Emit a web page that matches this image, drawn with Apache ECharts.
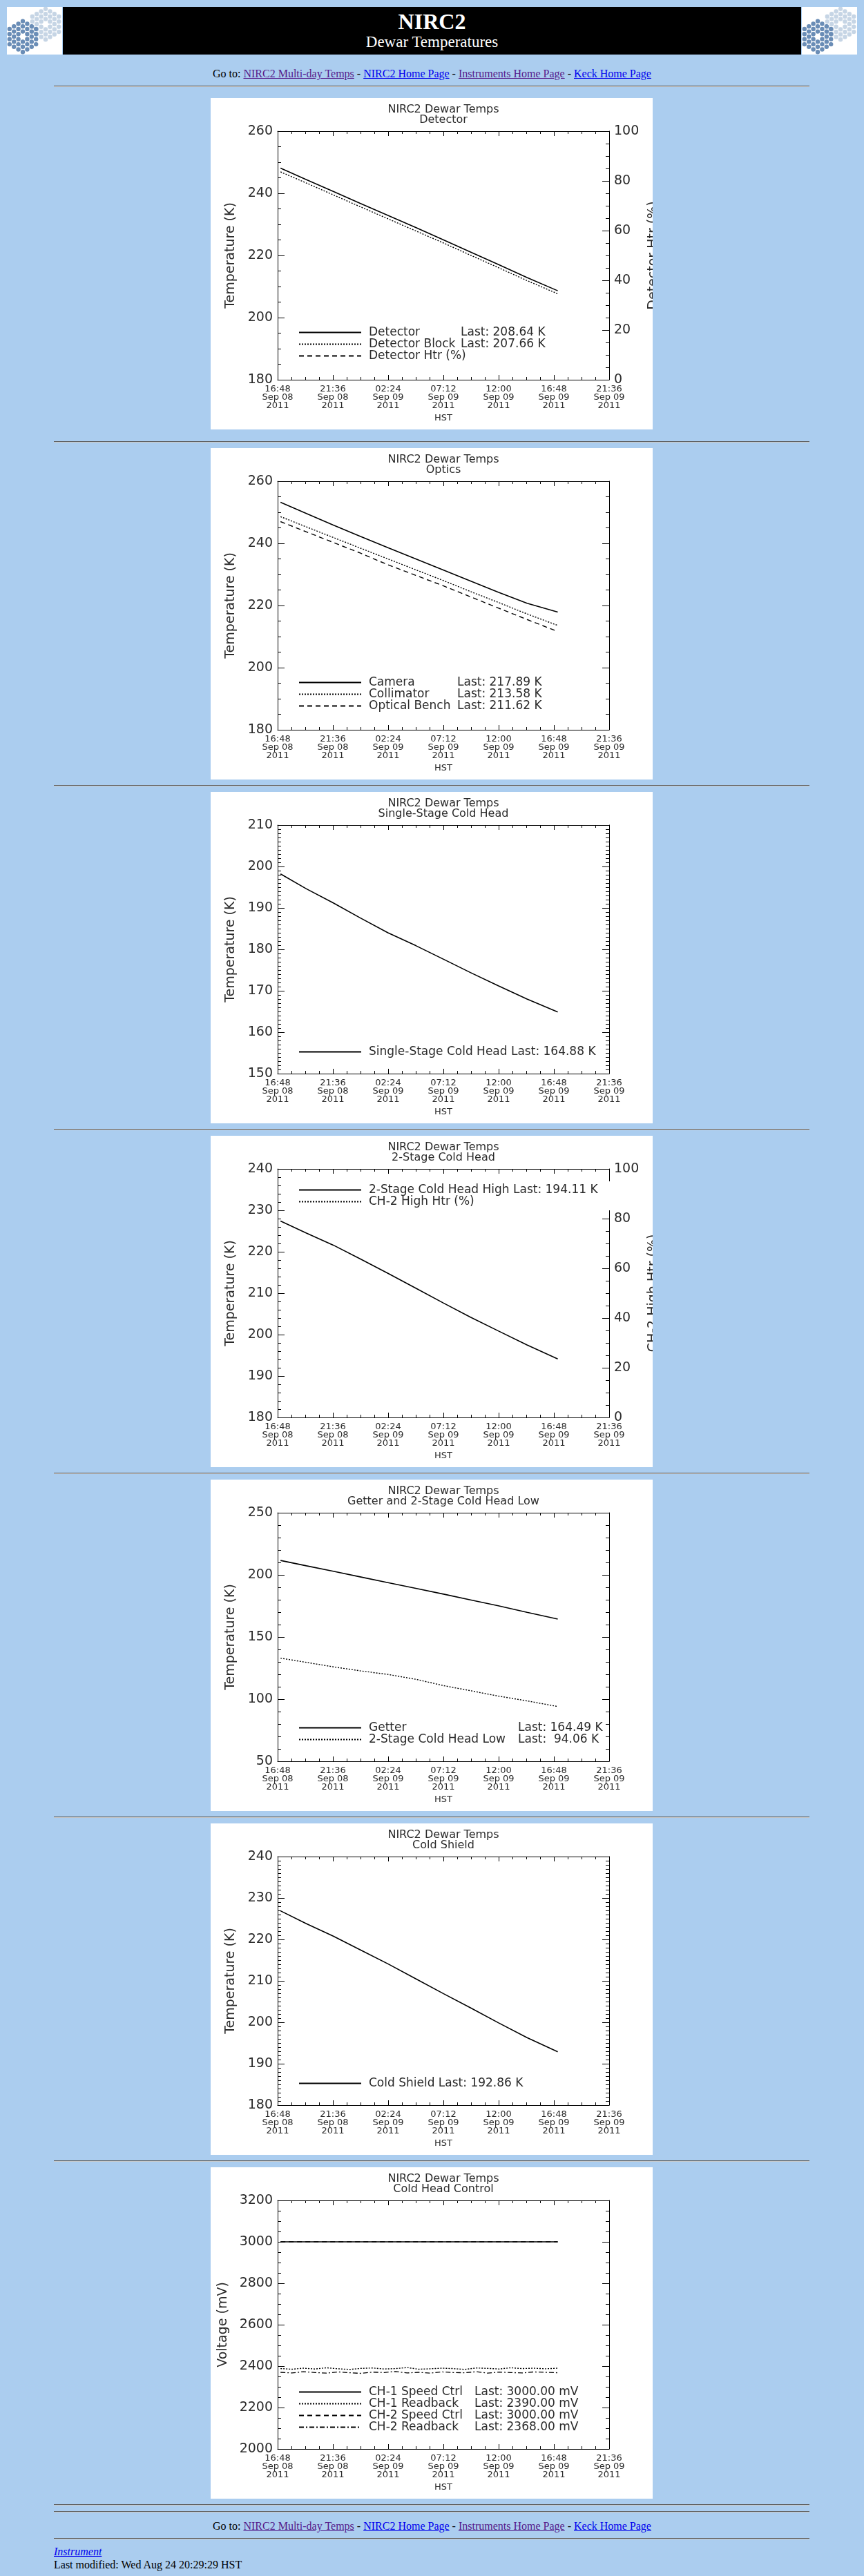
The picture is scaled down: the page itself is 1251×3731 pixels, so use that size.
<!DOCTYPE html>
<html>
<head>
<meta charset="utf-8">
<title>NIRC2 Dewar Temperatures</title>
<script src="https://cdn.jsdelivr.net/npm/echarts@6/dist/echarts.min.js"></script>
<style>
  body { margin: 0; background: #abcdef; font-family: "Liberation Serif", "Times New Roman", serif; font-size: 16px; color: #000; }
  #page { width: 1251px; }
  #hdr { position: relative; height: 79px; }
  .logo { position: absolute; top: 10px; width: 80px; height: 69px; background: #fff; overflow: hidden; }
  #logoL { left: 10px; }
  #logoR { left: 1161px; }
  #banner { position: absolute; top: 10px; left: 91px; width: 1069px; height: 69px; background: #000; color: #fff; text-align: center; }
  #banner .big { font-weight: bold; font-size: 32px; line-height: 32px; margin-top: 5px; }
  #banner .sub { font-size: 23px; line-height: 23px; margin-top: 2px; }
  .goto { text-align: center; line-height: 19px; height: 19px; }
  .goto a, .foot a { text-decoration: underline; }
  a.v { color: #551a8b; }
  a.n { color: #0000ee; }
  hr { display: block; margin: 8px 0 0 78px; width: 1094px; height: 0; border: 0;
       border-top: 1px solid #5e5e5e; border-bottom: 1px solid #c9c9c9; }
  .plot { width: 640px; height: 480px; margin: 8px 0 0 305px; background: #fff; }
  .foot { margin-left: 78px; line-height: 19px; height: 19px; }
</style>
</head>
<body>
<div id="page">
  <div id="hdr">
    <div class="logo" id="logoL"></div>
    <div id="banner"><div class="big">NIRC2</div><div class="sub">Dewar Temperatures</div></div>
    <div class="logo" id="logoR"></div>
  </div>
  <div class="goto" style="margin-top:18px">Go to: <a class="v" href="#">NIRC2 Multi-day Temps</a> - <a class="n" href="#">NIRC2 Home Page</a> - <a class="v" href="#">Instruments Home Page</a> - <a class="n" href="#">Keck Home Page</a></div>
  <hr>
  <div class="plot" id="c1" style="margin-top:16px"></div>
  <hr style="margin-top:17px">
  <div class="plot" id="c2"></div>
  <hr>
  <div class="plot" id="c3"></div>
  <hr>
  <div class="plot" id="c4"></div>
  <hr>
  <div class="plot" id="c5"></div>
  <hr>
  <div class="plot" id="c6"></div>
  <hr>
  <div class="plot" id="c7"></div>
  <hr>
  <hr>
  <div class="goto" style="margin-top:10px">Go to: <a class="v" href="#">NIRC2 Multi-day Temps</a> - <a class="n" href="#">NIRC2 Home Page</a> - <a class="v" href="#">Instruments Home Page</a> - <a class="n" href="#">Keck Home Page</a></div>
  <hr>
  <div class="foot" style="margin-top:8px"><a class="n" href="#"><i>Instrument</i></a></div>
  <div class="foot">Last modified: Wed Aug 24 20:29:29 HST</div>
</div>

<script>
// x values are minutes after 16:48 HST, Sep 08 2011
var tMin = [15, 150, 290, 430, 575, 720, 865, 1005, 1150, 1300, 1460];
var tCtl = [15, 75, 135, 195, 255, 315, 375, 435, 495, 555, 615, 675, 735, 795, 855, 915, 975, 1035, 1095, 1155, 1215, 1275, 1335, 1395, 1460];

// Detector
var detectorK = [248.1, 244.4, 240.6, 236.8, 232.9, 229.0, 225.0, 221.1, 217.1, 212.9, 208.64];
var detBlockK = [246.9, 243.3, 239.5, 235.7, 231.8, 227.9, 224.0, 220.1, 216.1, 211.9, 207.66];
var detHtrPct = []; // heater trace not visible in the plot
// Optics
var cameraK = [253.2, 249.6, 245.9, 242.3, 238.6, 235.0, 231.4, 227.9, 224.3, 220.7, 217.89];
var collimK = [248.6, 245.3, 241.9, 238.5, 235.0, 231.5, 228.0, 224.5, 221.0, 217.3, 213.58];
var benchK = [247.0, 243.7, 240.3, 236.9, 233.1, 229.7, 226.3, 222.8, 219.2, 215.5, 211.62];
// Single-stage cold head
var ssHeadK = [198.2, 194.6, 191.2, 187.6, 184.0, 180.9, 177.6, 174.4, 171.2, 168.0, 164.88];
// 2-stage cold head
var ch2HighK = [227.4, 224.5, 221.6, 218.3, 214.8, 211.2, 207.6, 204.2, 200.9, 197.5, 194.11];
var ch2HtrPct = []; // heater trace not visible in the plot
// Getter and 2-stage low
var getterK = [211.6, 207.3, 202.9, 198.4, 193.8, 189.2, 184.5, 179.9, 175.1, 169.9, 164.49];
var ch2LowK = [133.0, 129.6, 126.0, 122.8, 119.9, 116.0, 110.9, 106.8, 102.5, 98.6, 94.06];
// Cold shield
var shieldK = [226.9, 223.8, 220.8, 217.5, 214.1, 210.5, 206.9, 203.5, 199.9, 196.3, 192.86];
// Cold head control (mV)
var ch1SpeedMv = [3000, 3000, 3000, 3000, 3000, 3000, 3000, 3000, 3000, 3000, 3000, 3000, 3000, 3000, 3000, 3000, 3000, 3000, 3000, 3000, 3000, 3000, 3000, 3000, 3000];
var ch1ReadMv = [2388, 2385, 2390, 2386, 2392, 2387, 2384, 2389, 2391, 2386, 2388, 2393, 2385, 2387, 2390, 2388, 2384, 2391, 2389, 2386, 2392, 2388, 2390, 2387, 2390];
var ch2SpeedMv = [3000, 3000, 3000, 3000, 3000, 3000, 3000, 3000, 3000, 3000, 3000, 3000, 3000, 3000, 3000, 3000, 3000, 3000, 3000, 3000, 3000, 3000, 3000, 3000, 3000];
var ch2ReadMv = [2370, 2367, 2373, 2369, 2366, 2372, 2368, 2365, 2371, 2369, 2374, 2367, 2370, 2366, 2372, 2369, 2368, 2373, 2366, 2371, 2369, 2367, 2372, 2370, 2368];

// legend texts
var detNames = ['Detector', 'Detector Block', 'Detector Htr (%)'];
var detLast = ['Last: 208.64 K', 'Last: 207.66 K', ''];
var optNames = ['Camera', 'Collimator', 'Optical Bench'];
var optLast = ['Last: 217.89 K', 'Last: 213.58 K', 'Last: 211.62 K'];
var ssNames = ['Single-Stage Cold Head Last: 164.88 K'];
var ch2Names = ['2-Stage Cold Head High Last: 194.11 K', 'CH-2 High Htr (%)'];
var getNames = ['Getter', '2-Stage Cold Head Low'];
var getLast = ['Last: 164.49 K', 'Last:  94.06 K'];
var shNames = ['Cold Shield Last: 192.86 K'];
var ctlNames = ['CH-1 Speed Ctrl', 'CH-1 Readback', 'CH-2 Speed Ctrl', 'CH-2 Readback'];
var ctlLast = ['Last: 3000.00 mV', 'Last: 2390.00 mV', 'Last: 3000.00 mV', 'Last: 2368.00 mV'];

var FONT = '"DejaVu Sans", Verdana, sans-serif';
var INK = '#000';
var TXT = '#2a2a2a';
var DASH = {
  solid: { type: 'solid', width: 1.6 },
  dotted: { type: [2, 2], width: 1.4 },
  dashed: { type: [7, 5], width: 1.4 },
  dashdot: { type: [7, 3, 2, 3], width: 1.3 }
};

function pad2(n) { return (n < 10 ? '0' : '') + n; }
function xLabel(v) {
  var t = 16 * 60 + 48 + v;
  var day = 8 + Math.floor(t / 1440);
  var m = t % 1440;
  return pad2(Math.floor(m / 60)) + ':' + pad2(m % 60) + '\nSep ' + pad2(day) + '\n2011';
}

function yAxis(pos, r, showLabel, name, nameGap) {
  return {
    type: 'value', position: pos, min: r[0], max: r[1], interval: r[2],
    axisLine: { show: true, onZero: false, lineStyle: { color: INK, width: 1 } },
    axisTick: { show: true, inside: true, length: 10, lineStyle: { color: INK, width: 1 } },
    minorTick: { show: true, splitNumber: r[3], length: 5, lineStyle: { color: INK, width: 1 } },
    splitLine: { show: false }, minorSplitLine: { show: false },
    axisLabel: { show: showLabel, margin: 7, fontFamily: FONT, fontSize: 19, color: TXT,
      formatter: function (v) { return String(v); } },
    name: name || '', nameLocation: 'middle', nameRotate: 90, nameGap: nameGap || 0,
    nameTextStyle: { fontFamily: FONT, fontSize: 19, color: TXT }
  };
}

function xAxis(pos, showLabel) {
  return {
    type: 'value', position: pos, min: 0, max: 1728, interval: 288,
    axisLine: { show: true, onZero: false, lineStyle: { color: INK, width: 1 } },
    axisTick: { show: true, inside: true, length: 7, lineStyle: { color: INK, width: 1 } },
    minorTick: { show: true, splitNumber: 4, length: 4, lineStyle: { color: INK, width: 1 } },
    splitLine: { show: false },
    axisLabel: { show: showLabel, formatter: xLabel, margin: 8, fontFamily: FONT, fontSize: 13, lineHeight: 12, color: TXT },
    name: showLabel ? 'HST' : '', nameLocation: 'middle', nameGap: 46,
    nameTextStyle: { fontFamily: FONT, fontSize: 13, color: TXT }
  };
}

function makeChart(id, spec) {
  var chart = echarts.init(document.getElementById(id));
  var names = spec.lines.map(function (l) { return l.name; });
  var right = spec.right
    ? yAxis('right', spec.right, true, spec.rightName, 47)
    : yAxis('right', spec.left, false);
  var legendPos = spec.legendTop != null ? { top: spec.legendTop - 4 } : { bottom: 91 };
  var rich = {
    n: { width: spec.colW || 0, fontFamily: FONT, fontSize: 17, color: TXT },
    v: { fontFamily: FONT, fontSize: 17, color: TXT }
  };
  var legend = Object.assign({
    orient: 'vertical', left: 123,
    padding: [4, spec.legendPadR || 4, 4, 4],
    backgroundColor: '#fff',
    itemWidth: 90, itemHeight: 18, itemGap: 0,
    selectedMode: false,
    itemStyle: { opacity: 0 },
    data: names,
    formatter: function (name) {
      var i = names.indexOf(name);
      var last = spec.lasts ? spec.lasts[i] : '';
      if (!last) return name;
      return '{n|' + name + '}{v|' + last + '}';
    },
    textStyle: { fontFamily: FONT, fontSize: 17, color: TXT, padding: [0, 0, 0, 6], rich: rich }
  }, legendPos);

  chart.setOption({
    animation: false,
    backgroundColor: '#fff',
    title: {
      text: spec.title.join('\n'), left: 337, top: 10, textAlign: 'center', padding: 0,
      textStyle: { fontFamily: FONT, fontSize: 16, fontWeight: 'normal', lineHeight: 14.6, color: TXT }
    },
    grid: { left: 97, top: 48, width: 480, height: 360, containLabel: false, outerBoundsMode: 'none' },
    xAxis: [xAxis('bottom', true), xAxis('top', false)],
    yAxis: [yAxis('left', spec.left, true, spec.leftName, spec.leftGap), right],
    legend: legend,
    series: spec.lines.map(function (l) {
      return {
        name: l.name, type: 'line', xAxisIndex: 0, yAxisIndex: l.onRight ? 1 : 0,
        data: l.y.map(function (y, i) { return [l.x[i], y]; }),
        symbol: 'none', showSymbol: false, silent: true, z: 3,
        lineStyle: Object.assign({ color: INK }, DASH[l.style]),
        itemStyle: { color: INK }
      };
    })
  });
}

makeChart('c1', {
  title: ['NIRC2 Dewar Temps', 'Detector'],
  left: [180, 260, 20, 4], leftName: 'Temperature (K)', leftGap: 58,
  right: [0, 100, 20, 4], rightName: 'Detector Htr (%)',
  lasts: detLast, colW: 133, legendTop: 331,
  lines: [
    { name: detNames[0], x: tMin, y: detectorK, style: 'solid' },
    { name: detNames[1], x: tMin, y: detBlockK, style: 'dotted' },
    { name: detNames[2], x: tMin, y: detHtrPct, style: 'dashed', onRight: true }
  ]
});
makeChart('c2', {
  title: ['NIRC2 Dewar Temps', 'Optics'],
  left: [180, 260, 20, 4], leftName: 'Temperature (K)', leftGap: 58,
  lasts: optLast, colW: 128, legendTop: 331,
  lines: [
    { name: optNames[0], x: tMin, y: cameraK, style: 'solid' },
    { name: optNames[1], x: tMin, y: collimK, style: 'dotted' },
    { name: optNames[2], x: tMin, y: benchK, style: 'dashed' }
  ]
});
makeChart('c3', {
  title: ['NIRC2 Dewar Temps', 'Single-Stage Cold Head'],
  left: [150, 210, 10, 10], leftName: 'Temperature (K)', leftGap: 58,
  lines: [
    { name: ssNames[0], x: tMin, y: ssHeadK, style: 'solid' }
  ]
});
makeChart('c4', {
  title: ['NIRC2 Dewar Temps', '2-Stage Cold Head'],
  left: [180, 240, 10, 5], leftName: 'Temperature (K)', leftGap: 58,
  right: [0, 100, 20, 4], rightName: 'CH-2 High Htr (%)',
  legendTop: 70, legendPadR: 24,
  lines: [
    { name: ch2Names[0], x: tMin, y: ch2HighK, style: 'solid' },
    { name: ch2Names[1], x: tMin, y: ch2HtrPct, style: 'dotted', onRight: true }
  ]
});
makeChart('c5', {
  title: ['NIRC2 Dewar Temps', 'Getter and 2-Stage Cold Head Low'],
  left: [50, 250, 50, 5], leftName: 'Temperature (K)', leftGap: 58,
  lasts: getLast, colW: 216,
  lines: [
    { name: getNames[0], x: tMin, y: getterK, style: 'solid' },
    { name: getNames[1], x: tMin, y: ch2LowK, style: 'dotted' }
  ]
});
makeChart('c6', {
  title: ['NIRC2 Dewar Temps', 'Cold Shield'],
  left: [180, 240, 10, 10], leftName: 'Temperature (K)', leftGap: 58,
  lines: [
    { name: shNames[0], x: tMin, y: shieldK, style: 'solid' }
  ]
});
makeChart('c7', {
  title: ['NIRC2 Dewar Temps', 'Cold Head Control'],
  left: [2000, 3200, 200, 4], leftName: 'Voltage (mV)', leftGap: 69,
  lasts: ctlLast, colW: 153,
  lines: [
    { name: ctlNames[0], x: tCtl, y: ch1SpeedMv, style: 'solid' },
    { name: ctlNames[1], x: tCtl, y: ch1ReadMv, style: 'dotted' },
    { name: ctlNames[2], x: tCtl, y: ch2SpeedMv, style: 'dashed' },
    { name: ctlNames[3], x: tCtl, y: ch2ReadMv, style: 'dashdot' }
  ]
});

// Keck mirror logos: two hexagonal clusters of 36 segments each
function drawLogo(el) {
  var ns = 'http://www.w3.org/2000/svg';
  var svg = document.createElementNS(ns, 'svg');
  svg.setAttribute('width', '80');
  svg.setAttribute('height', '69');
  [[56, 25, '#c6d5e5'], [23, 43, '#6a8db6']].forEach(function (c) {
    for (var q = -3; q <= 3; q++) {
      for (var r = Math.max(-3, -q - 3); r <= Math.min(3, -q + 3); r++) {
        if (q === 0 && r === 0) continue;
        var dot = document.createElementNS(ns, 'circle');
        dot.setAttribute('cx', c[0] + q * 6.4);
        dot.setAttribute('cy', c[1] + (r + q / 2) * 7.4);
        dot.setAttribute('r', '3.2');
        dot.setAttribute('fill', c[2]);
        svg.appendChild(dot);
      }
    }
  });
  el.appendChild(svg);
}
drawLogo(document.getElementById('logoL'));
drawLogo(document.getElementById('logoR'));
</script>
</body>
</html>
